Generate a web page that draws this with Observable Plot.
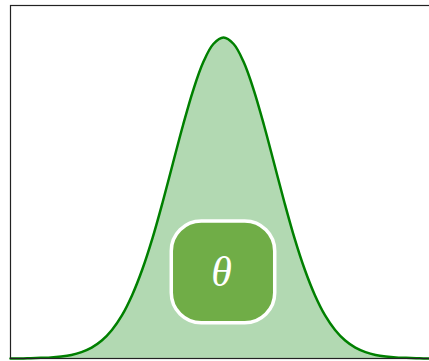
<!DOCTYPE html>
<html>
<head>
<meta charset="utf-8">
<script src="https://cdn.jsdelivr.net/npm/d3@7"></script>
<script src="https://cdn.jsdelivr.net/npm/@observablehq/plot@0.6"></script>
<style>
  html, body { margin: 0; padding: 0; background: white; overflow: hidden; }
</style>
</head>
<body>
<div id="chart"></div>
<script>
// Bell-shaped density of the parameter θ, in standard units
const zValues = [-4.2, -4.0, -3.8, -3.6, -3.4, -3.2, -3.0, -2.8, -2.6, -2.4, -2.2, -2.0, -1.8, -1.6, -1.4, -1.2, -1.0, -0.8, -0.6, -0.4, -0.2,
  0, 0.2, 0.4, 0.6, 0.8, 1.0, 1.2, 1.4, 1.6, 1.8, 2.0, 2.2, 2.4, 2.6, 2.8, 3.0, 3.2, 3.4, 3.6, 3.8, 4.0, 4.2];
const densityValues = [0.000, 0.000, 0.001, 0.002, 0.003, 0.006, 0.011, 0.020, 0.034, 0.056, 0.089, 0.135, 0.198, 0.278, 0.375, 0.487, 0.607, 0.726, 0.835, 0.923, 0.980,
  1.000, 0.980, 0.923, 0.835, 0.726, 0.607, 0.487, 0.375, 0.278, 0.198, 0.135, 0.089, 0.056, 0.034, 0.020, 0.011, 0.006, 0.003, 0.002, 0.001, 0.000, 0.000];

// Parameter badge
const badgeLabel = "θ";
const badgeCenter = 0.268;
const badgeX = [-1.02, 1.02];
const badgeY = [0.11, 0.427];

const curve = zValues.map((z, i) => ({z, d: densityValues[i]}));
const badge = [{x1: badgeX[0], x2: badgeX[1], y1: badgeY[0], y2: badgeY[1], label: badgeLabel}];

const chart = Plot.plot({
  width: 429,
  height: 361,
  marginTop: 5,
  marginLeft: 10,
  marginBottom: 3,
  marginRight: -7,
  x: {domain: [-4.2, 4.2], axis: null},
  y: {domain: [0, 1.1], axis: null},
  marks: [
    Plot.areaY(curve, {x: "z", y: "d", fill: "green", fillOpacity: 0.3, curve: "catmull-rom"}),
    Plot.lineY(curve, {x: "z", y: "d", stroke: "green", strokeWidth: 2.5, curve: "catmull-rom"}),
    Plot.rect(badge, {x1: "x1", x2: "x2", y1: "y1", y2: "y2", rx: 30, fill: "#70ad47", stroke: "white", strokeWidth: 3.5}),
    Plot.text(badge, {x: d => (d.x1 + d.x2) / 2 - 0.04, y: badgeCenter, text: "label", fill: "white",
      fontSize: 42, fontStyle: "italic", fontFamily: "Liberation Serif"}),
    Plot.frame({stroke: "#222", strokeWidth: 1.2})
  ]
});
document.getElementById("chart").append(chart);
</script>
</body>
</html>
